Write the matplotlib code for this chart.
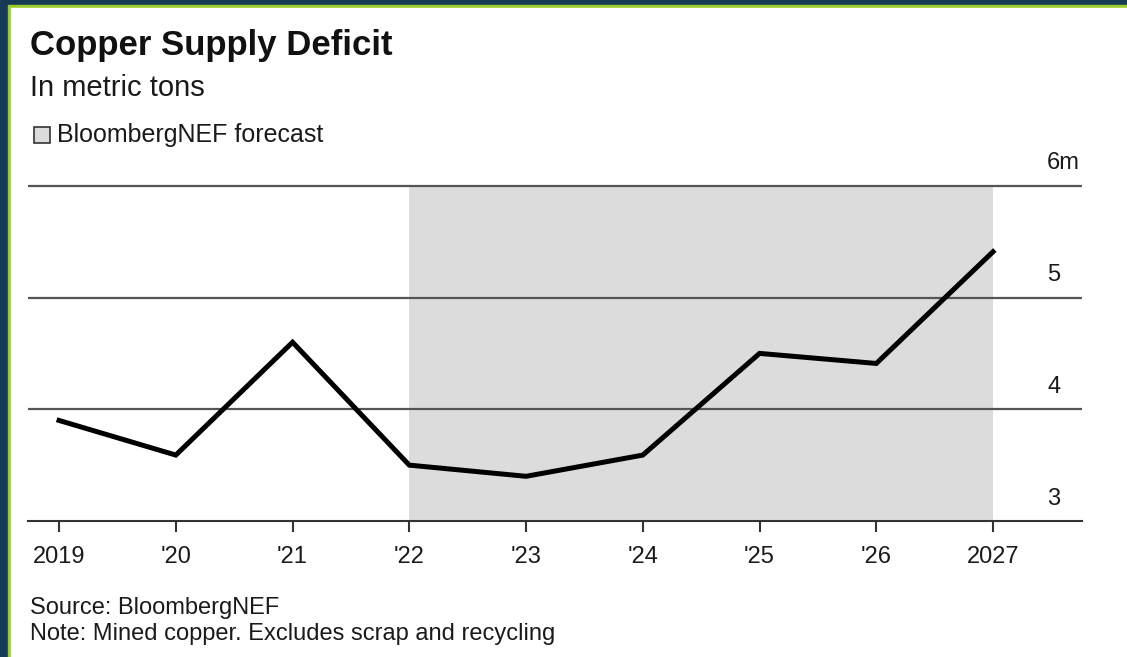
import matplotlib.pyplot as plt
from matplotlib.patches import Rectangle

# Copper supply deficit, millions of metric tons
years = [2019, 2020, 2021, 2022, 2023, 2024, 2025, 2026, 2027]
deficit = [3.9, 3.59, 4.6, 3.5, 3.4, 3.59, 4.5, 4.41, 5.41]
tick_labels = ['2019', "'20", "'21", "'22", "'23", "'24", "'25", "'26", '2027']
y_ticks = [3, 4, 5, 6]
y_labels = ['3', '4', '5', '6m']
forecast_start, forecast_end = 2022, 2027

plt.rcParams['font.family'] = ['Liberation Sans', 'DejaVu Sans']

W, H = 1127, 657
fig = plt.figure(figsize=(W / 100, H / 100), dpi=100)
fig.patch.set_facecolor('white')

# dark frame with green edge round the white card
fig.patches.append(Rectangle((0, 0), 1, 1, transform=fig.transFigure, color='#173a55', zorder=-3))
fig.patches.append(Rectangle((8 / W, 0), 1, 1 - 5 / H, transform=fig.transFigure, color='#9ccc2a', zorder=-2))
fig.patches.append(Rectangle((11 / W, 0), 1, 1 - 8 / H, transform=fig.transFigure, color='white', zorder=-1))

ax = fig.add_axes([28 / W, 1 - 521 / H, (1082 - 28) / W, (521 - 140) / H])
ax.set_facecolor('none')

ax.axvspan(forecast_start, forecast_end, ymin=0, ymax=(6 - 3) / (6.41 - 3), color='#dcdcdc', lw=0, zorder=0)
ax.plot(years, deficit, color='black', lw=3.6, solid_joinstyle='miter', zorder=3)

for v in y_ticks[1:]:
    ax.axhline(v, color='#555555', lw=1.6, zorder=1)
for v, lab in zip(y_ticks, y_labels):
    ax.text(0.967, v + 0.2, lab, transform=ax.get_yaxis_transform(), ha='left', va='center',
            fontsize=17, color='#1a1a1a')

ax.set_xlim(2018.734, 2027.762)
ax.set_ylim(3, 6.41)
ax.set_xticks(years)
ax.set_xticklabels(tick_labels, fontsize=17, color='#1a1a1a')
ax.set_yticks([])
ax.tick_params(axis='x', length=8, width=1.5, color='#333333', pad=10)
for s in ['top', 'left', 'right']:
    ax.spines[s].set_visible(False)
ax.spines['bottom'].set_color('#333333')
ax.spines['bottom'].set_linewidth(1.5)

fig.text(30 / W, 1 - 45 / H, 'Copper Supply Deficit', fontsize=25, fontweight='bold',
         va='center', color='#111111')
fig.text(30 / W, 1 - 88 / H, 'In metric tons', fontsize=21, va='center', color='#1a1a1a')
fig.patches.append(Rectangle((34 / W, 1 - 143 / H), 16 / W, 16 / H, transform=fig.transFigure,
                             facecolor='#dcdcdc', edgecolor='#333333', lw=1.2))
fig.text(57 / W, 1 - 135 / H, 'BloombergNEF forecast', fontsize=18, va='center', color='#1a1a1a')
fig.text(30 / W, 1 - 608 / H, 'Source: BloombergNEF', fontsize=17, va='center', color='#1a1a1a')
fig.text(30 / W, 1 - 634 / H, 'Note: Mined copper. Excludes scrap and recycling', fontsize=17,
         va='center', color='#1a1a1a')

fig.savefig('out.png', dpi=100)
